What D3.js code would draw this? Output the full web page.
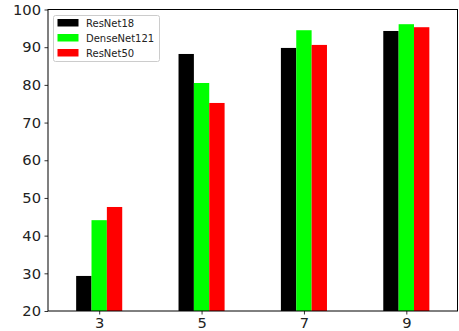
<!DOCTYPE html>
<html><head><meta charset="utf-8">
<script src="https://cdn.jsdelivr.net/npm/d3@7"></script>
<style>body{margin:0;background:#fff}svg{display:block}text{font-family:"DejaVu Sans",sans-serif}</style>
</head><body><svg id="c" width="459" height="331"></svg>
<script>
const categories = [3, 5, 7, 9];
const seriesNames = ["ResNet18", "DenseNet121", "ResNet50"];
const seriesColors = ["#000000", "#00ff00", "#ff0000"];
const resnet18 = [29.3, 88.2, 89.8, 94.3];
const densenet121 = [44.1, 80.5, 94.5, 96.1];
const resnet50 = [47.6, 75.2, 90.6, 95.3];
const yTicks = [20, 30, 40, 50, 60, 70, 80, 90, 100];
const series = [resnet18, densenet121, resnet50];

const svg = d3.select("#c");
const L = 48, R = 457.5, T = 9.5, B = 311;
const x = d3.scaleLinear().domain([2, 10]).range([L, R]);
const y = d3.scaleLinear().domain([20, 100]).range([B, T]);
const bw = 0.3;

series.forEach((vals, si) => {
  svg.append("g").selectAll("rect").data(vals).join("rect")
    .attr("x", (d, i) => x(categories[i] + (si - 1) * bw - bw / 2))
    .attr("width", x(bw) - x(0))
    .attr("y", d => y(d))
    .attr("height", d => y(20) - y(d))
    .attr("fill", seriesColors[si]);
});

const ya = svg.append("g").attr("transform", `translate(${L},0)`)
  .call(d3.axisLeft(y).tickValues(yTicks).tickSize(3.5).tickPadding(3.5));
const xa = svg.append("g").attr("transform", `translate(0,${B})`)
  .call(d3.axisBottom(x).tickValues(categories).tickSize(3.5).tickPadding(3.5));
[ya, xa].forEach(a => {
  a.select(".domain").remove();
  a.selectAll("line").attr("stroke", "#000").attr("stroke-width", 0.8);
  a.selectAll("text").attr("font-size", "14.7px").attr("fill", "#222")
    .style("font-family", '"DejaVu Sans",sans-serif');
});
svg.append("rect").attr("x", L).attr("y", T).attr("width", R - L).attr("height", B - T)
  .attr("fill", "none").attr("stroke", "#000").attr("stroke-width", 1);

const lg = svg.append("g").attr("transform", "translate(53.5,15.5)");
lg.append("rect").attr("width", 106).attr("height", 46).attr("rx", 2)
  .attr("fill", "#fff").attr("fill-opacity", 0.8).attr("stroke", "#ccc").attr("stroke-width", 1);
seriesNames.forEach((n, i) => {
  lg.append("rect").attr("x", 4).attr("y", 3.5 + i * 15).attr("width", 21).attr("height", 7.5)
    .attr("fill", seriesColors[i]);
  lg.append("text").attr("x", 32.5).attr("y", 7.5 + i * 15).attr("dy", "0.35em")
    .attr("font-size", "10px").attr("fill", "#222").text(n);
});
</script></body></html>
